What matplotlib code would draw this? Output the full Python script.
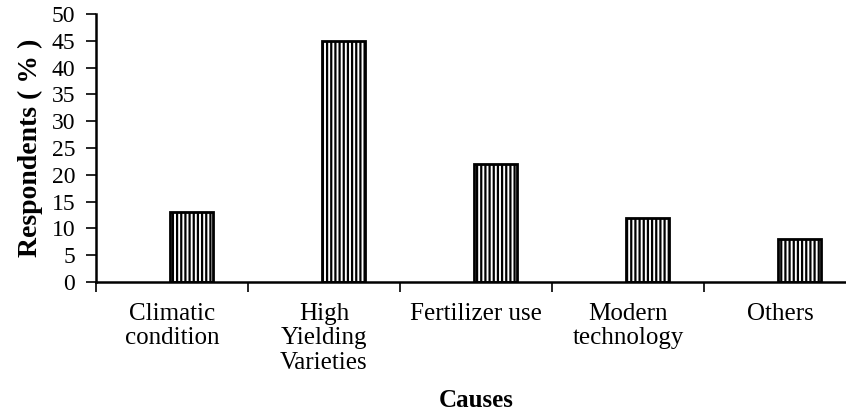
import matplotlib
matplotlib.use("Agg")
import matplotlib.pyplot as plt
import numpy as np

categories = ["Climatic\ncondition", "High\nYielding\nVarieties", "Fertilizer use",
              "Modern\ntechnology", "Others"]
values = [13, 45, 22, 12, 8]
yticks = [0, 5, 10, 15, 20, 25, 30, 35, 40, 45, 50]

plt.rcParams['hatch.linewidth'] = 1.6
plt.rcParams['font.family'] = ['Liberation Serif', 'DejaVu Serif']

W, H = 846, 419
fig = plt.figure(figsize=(W/100, H/100), dpi=100)
ax = fig.add_axes([96/W, 1-282/H, 760/W, 268/H])

x = np.arange(len(categories))
ax.bar(x + 0.13, values, width=0.283, color='white', edgecolor='black',
       linewidth=2.0, hatch='||||')

ax.set_xlim(-0.5, len(categories) - 0.5)
ax.set_ylim(0, 50)
ax.set_yticks(yticks)
ax.set_yticklabels([str(t) for t in yticks], fontsize=17)
ax.set_xticks(x)
ax.set_xticklabels(categories, fontsize=18, linespacing=1.15, va='top')
ax.tick_params(axis='x', length=0, pad=15)
ax.set_xticks(np.arange(len(categories) + 1) - 0.5, minor=True)
ax.tick_params(axis='x', which='minor', length=7, width=1.2, direction='out')
ax.tick_params(axis='y', length=7, width=1.2, direction='out', pad=8)

for s in ['top', 'right']:
    ax.spines[s].set_visible(False)
for s in ['left', 'bottom']:
    ax.spines[s].set_linewidth(1.8)

ax.set_ylabel("Respondents ( % )", fontsize=20, fontweight='bold', labelpad=6)
ax.set_xlabel("Causes", fontsize=18, fontweight='bold', labelpad=11)

fig.savefig("out.png", dpi=100)
